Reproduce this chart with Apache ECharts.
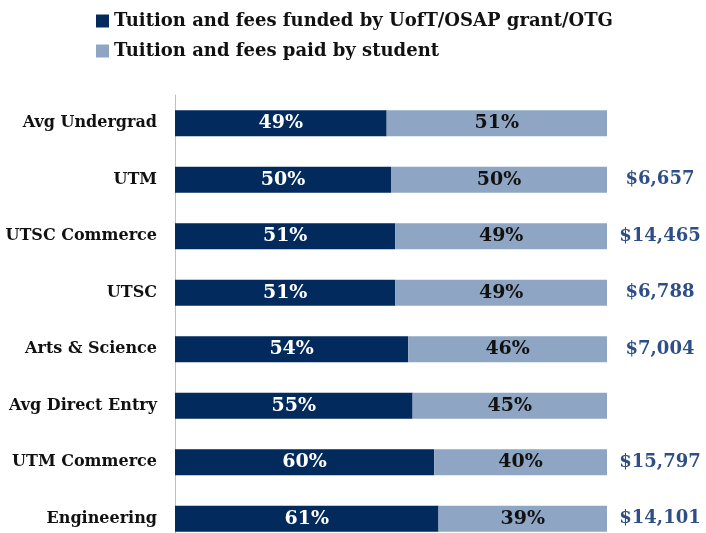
<!DOCTYPE html>
<html>
<head>
<meta charset="utf-8">
<script src="https://cdn.jsdelivr.net/npm/echarts@6/dist/echarts.min.js"></script>
<style>
  html, body { margin: 0; padding: 0; background: #fff; overflow: hidden; }
  /* last bar is cut by the window edge in the original, so the canvas runs a bit past it */
  #chart { width: 706px; height: 547px; }
</style>
</head>
<body>
<div id="chart"></div>
<script>
// schools, top to bottom
const categories = [
  'Avg Undergrad', 'UTM', 'UTSC Commerce', 'UTSC',
  'Arts & Science', 'Avg Direct Entry', 'UTM Commerce', 'Engineering'
];
const fundedPct = [49, 50, 51, 51, 54, 55, 60, 61];
const paidPct = [51, 50, 49, 49, 46, 45, 40, 39];
// amount shown to the right of each bar (blank where none)
const amounts = ['', '$6,657', '$14,465', '$6,788', '$7,004', '', '$15,797', '$14,101'];

const seriesNames = [
  'Tuition and fees funded by UofT/OSAP grant/OTG',
  'Tuition and fees paid by student'
];

const FONT = '"DejaVu Serif", serif';
const darkBlue = '#022a5c';
const lightBlue = '#8ea6c3';

const chart = echarts.init(document.getElementById('chart'));

chart.setOption({
  animation: false,
  backgroundColor: '#fff',
  legend: {
    orient: 'vertical',
    left: 91,
    top: 7,
    itemWidth: 13,
    itemHeight: 13,
    itemGap: 12,
    icon: 'rect',
    textStyle: {
      fontFamily: FONT,
      fontWeight: 'bold',
      fontSize: 18,
      color: '#111'
    },
    data: seriesNames
  },
  grid: {
    left: 175,
    right: 99,
    top: 95,
    bottom: 0,
    containLabel: false
  },
  xAxis: {
    type: 'value',
    min: 0,
    max: 100,
    show: false
  },
  yAxis: {
    type: 'category',
    inverse: true,
    data: categories,
    axisLine: { show: true, lineStyle: { color: '#bfbfbf', width: 1 } },
    axisTick: { show: false },
    axisLabel: {
      margin: 18,
      fontFamily: FONT,
      fontWeight: 'bold',
      fontSize: 16,
      color: '#111'
    }
  },
  series: [
    {
      name: seriesNames[0],
      type: 'bar',
      stack: 'total',
      barWidth: 26,
      itemStyle: { color: darkBlue },
      label: {
        show: true,
        position: 'inside',
        formatter: (p) => p.value + '%',
        fontFamily: FONT,
        fontWeight: 'bold',
        fontSize: 19,
        color: '#fff'
      },
      data: fundedPct
    },
    {
      name: seriesNames[1],
      type: 'bar',
      stack: 'total',
      barWidth: 26,
      itemStyle: { color: lightBlue },
      label: {
        show: true,
        position: 'inside',
        formatter: (p) => p.value + '%',
        fontFamily: FONT,
        fontWeight: 'bold',
        fontSize: 19,
        color: '#111'
      },
      data: paidPct
    },
    {
      // invisible bar carrying the dollar labels to the right
      name: 'amount',
      type: 'bar',
      stack: 'total',
      barWidth: 26,
      silent: true,
      itemStyle: { color: 'transparent' },
      label: {
        show: true,
        position: 'insideLeft',
        offset: [48, 0],
        align: 'center',
        formatter: (p) => amounts[p.dataIndex],
        fontFamily: FONT,
        fontWeight: 'bold',
        fontSize: 18,
        color: '#2d4f86'
      },
      data: categories.map(() => 0)
    }
  ]
});
</script>
</body>
</html>
